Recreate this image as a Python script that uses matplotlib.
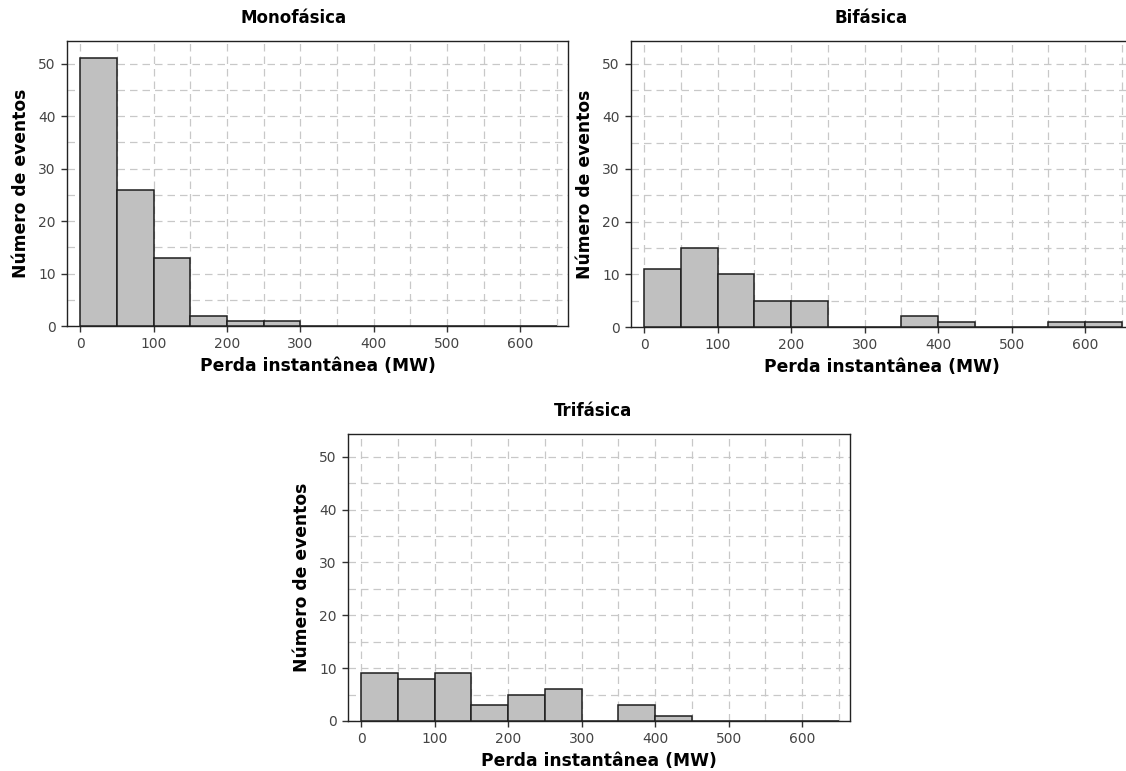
import numpy as np
import matplotlib
matplotlib.use("Agg")
import matplotlib.pyplot as plt
from matplotlib.ticker import MultipleLocator

# Data (bin edges in MW, counts per 50 MW bin)
bin_edges = np.arange(0, 700, 50)
mono_counts = [51, 26, 13, 2, 1, 1, 0, 0, 0, 0, 0, 0, 0]
bi_counts = [11, 15, 10, 5, 5, 0, 0, 2, 1, 0, 0, 1, 1]
tri_counts = [9, 8, 9, 3, 5, 6, 0, 3, 1, 0, 0, 0, 0]
titles = ["Monofásica", "Bifásica", "Trifásica"]
xlabel = "Perda instantânea (MW)"
ylabel = "Número de eventos"
x_ticks = [0, 100, 200, 300, 400, 500, 600]
y_ticks = [0, 10, 20, 30, 40, 50]

plt.rcParams['font.family'] = ['DejaVu Sans']

W, H = 1126, 771
fig = plt.figure(figsize=(W / 100, H / 100), dpi=100)

def px_axes(left, top, right, bottom):
    return [left / W, 1 - bottom / H, (right - left) / W, (bottom - top) / H]

specs = [
    (px_axes(67, 41, 568, 326), mono_counts, titles[0], 294, 18),
    (px_axes(631, 41, 1133, 327), bi_counts, titles[1], 871, 18),
    (px_axes(348, 434, 850, 721), tri_counts, titles[2], 593, 411),
]

for rect, counts, title, tx, ty in specs:
    ax = fig.add_axes(rect)
    ax.set_axisbelow(True)
    ax.bar(bin_edges[:-1], counts, width=50, align='edge',
           color='#c0c0c0', edgecolor='#1e1e1e', linewidth=1.1, zorder=3)
    ax.set_xlim(-18, 665)
    ax.set_ylim(0, 54.3)
    ax.set_xticks(x_ticks)
    ax.set_yticks(y_ticks)
    ax.xaxis.set_minor_locator(MultipleLocator(50))
    ax.yaxis.set_minor_locator(MultipleLocator(5))
    ax.grid(True, which='both', color='#c8c8c8', linestyle=(0, (6, 4)), linewidth=0.9)
    ax.tick_params(which='minor', length=0)
    ax.tick_params(which='major', direction='out', length=4, width=1,
                   color='#333333', labelcolor='#444444', labelsize=10, pad=4)
    for s in ax.spines.values():
        s.set_color('#222222')
        s.set_linewidth(1.0)
    ax.set_xlabel(xlabel, fontsize=12.3, fontweight='bold', labelpad=4)
    ax.set_ylabel(ylabel, fontsize=12.3, fontweight='bold', labelpad=6)
    fig.text(tx / W, 1 - ty / H, title, fontsize=12, fontweight='bold',
             ha='center', va='center')

fig.savefig("out.png", dpi=100)
